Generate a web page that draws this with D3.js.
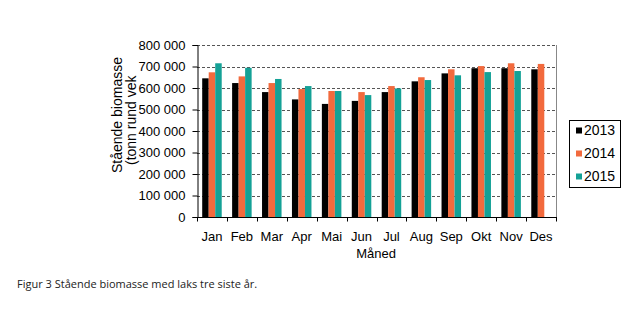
<!DOCTYPE html>
<html>
<head>
<meta charset="utf-8">
<script src="https://cdn.jsdelivr.net/npm/d3@7"></script>
<style>
  html, body { margin: 0; padding: 0; background: #fff; }
  svg { display: block; }
</style>
</head>
<body>
<svg id="chart" width="633" height="324"></svg>
<script>
// Standing biomass of salmon per month, tonnes round weight
const months = ["Jan", "Feb", "Mar", "Apr", "Mai", "Jun", "Jul", "Aug", "Sep", "Okt", "Nov", "Des"];
const years = ["2013", "2014", "2015"];
const values2013 = [645000, 623000, 581000, 547000, 526000, 540000, 581000, 631000, 668000, 692000, 692000, 687000];
const values2014 = [673000, 654000, 623000, 595000, 586000, 581000, 609000, 650000, 687000, 702000, 715000, 712000];
const values2015 = [715000, 694000, 642000, 609000, 586000, 567000, 598000, 637000, 659000, 674000, 679000, null];
const yTicks = [0, 100000, 200000, 300000, 400000, 500000, 600000, 700000, 800000];
const colors = ["#000000", "#f26a3d", "#14a196"];

const series = [values2013, values2014, values2015];
const rows = months.map((m, i) => ({ month: m, vals: years.map((y, k) => ({ year: y, k, v: series[k][i] })) }));

const svg = d3.select("#chart");
const fontAxis = "'Liberation Sans', Arial, sans-serif";

const plot = { left: 197, right: 556, top: 45, bottom: 217 };

const x = d3.scaleBand().domain(months).range([plot.left, plot.right]).paddingInner(0).paddingOuter(0);
const xInner = d3.scaleBand().domain(years).range([0, x.bandwidth()]).paddingInner(0).paddingOuter(0.8);
const y = d3.scaleLinear().domain([0, 800000]).range([plot.bottom, plot.top]);

const fmt = v => d3.format(",")(v).replace(/,/g, " ");

// dashed gridlines
svg.append("g")
  .selectAll("line")
  .data(yTicks.filter(t => t > 0))
  .join("line")
  .attr("x1", plot.left).attr("x2", plot.right)
  .attr("y1", d => Math.round(y(d)) + 0.5).attr("y2", d => Math.round(y(d)) + 0.5)
  .attr("stroke", "#555").attr("stroke-width", 1).attr("stroke-dasharray", "3,2");

// right border of plot area
svg.append("line")
  .attr("x1", plot.right + 0.5).attr("x2", plot.right + 0.5)
  .attr("y1", plot.top).attr("y2", plot.bottom)
  .attr("stroke", "#888");

// bars
const groups = svg.append("g").selectAll("g")
  .data(rows).join("g")
  .attr("transform", d => `translate(${x(d.month)},0)`);
groups.selectAll("rect")
  .data(d => d.vals.filter(e => e.v != null))
  .join("rect")
  .attr("x", d => xInner(d.year))
  .attr("width", xInner.bandwidth())
  .attr("y", d => y(d.v))
  .attr("height", d => y(0) - y(d.v))
  .attr("fill", d => colors[d.k]);

// y axis
const yAxis = svg.append("g")
  .attr("transform", `translate(${plot.left + 0.5},0)`)
  .call(d3.axisLeft(y).tickValues(yTicks).tickFormat(fmt).tickSize(5).tickPadding(7));
yAxis.select(".domain").attr("stroke", "#000");
yAxis.selectAll(".tick line").attr("stroke", "#000");
yAxis.selectAll("text").attr("font-family", fontAxis).attr("font-size", 13).attr("fill", "#000");

// x axis with ticks between categories
const xAxis = svg.append("g").attr("transform", `translate(0,${plot.bottom + 0.5})`);
xAxis.append("line").attr("x1", plot.left).attr("x2", plot.right + 1).attr("stroke", "#000");
xAxis.selectAll("line.sep")
  .data(months.map(m => x(m)).concat([plot.right]))
  .join("line").attr("class", "sep")
  .attr("x1", d => Math.round(d) + 0.5).attr("x2", d => Math.round(d) + 0.5)
  .attr("y1", 0).attr("y2", 4).attr("stroke", "#000");
xAxis.selectAll("text")
  .data(months).join("text")
  .attr("x", d => x(d) + x.bandwidth() / 2)
  .attr("y", 23)
  .attr("text-anchor", "middle")
  .attr("font-family", fontAxis).attr("font-size", 13)
  .text(d => d);

// axis titles
svg.append("text")
  .attr("x", 376).attr("y", 258)
  .attr("text-anchor", "middle")
  .attr("font-family", fontAxis).attr("font-size", 13)
  .text("Måned");
svg.append("text")
  .attr("transform", "translate(122,173) rotate(-90)")
  .attr("font-family", fontAxis).attr("font-size", 14)
  .text("Stående biomasse");
svg.append("text")
  .attr("transform", "translate(136,165) rotate(-90)")
  .attr("font-family", fontAxis).attr("font-size", 14)
  .text("(tonn rund vek");

// legend
const legend = svg.append("g");
legend.append("rect")
  .attr("x", 569.5).attr("y", 120.5).attr("width", 51).attr("height", 67)
  .attr("fill", "#fff").attr("stroke", "#000");
const items = legend.selectAll("g.item").data(years).join("g").attr("class", "item")
  .attr("transform", (d, i) => `translate(576,${130.5 + i * 23})`);
items.append("rect").attr("x", 0).attr("y", -3).attr("width", 6).attr("height", 6)
  .attr("fill", (d, i) => colors[i]);
items.append("text").attr("x", 8).attr("y", 4.8)
  .attr("font-family", fontAxis).attr("font-size", 14)
  .text(d => d);

// caption
svg.append("text")
  .attr("x", 17).attr("y", 288)
  .attr("font-family", "'Open Sans', sans-serif").attr("font-size", 11)
  .attr("fill", "#222")
  .text("Figur 3 Stående biomasse med laks tre siste år.");
</script>
</body>
</html>
